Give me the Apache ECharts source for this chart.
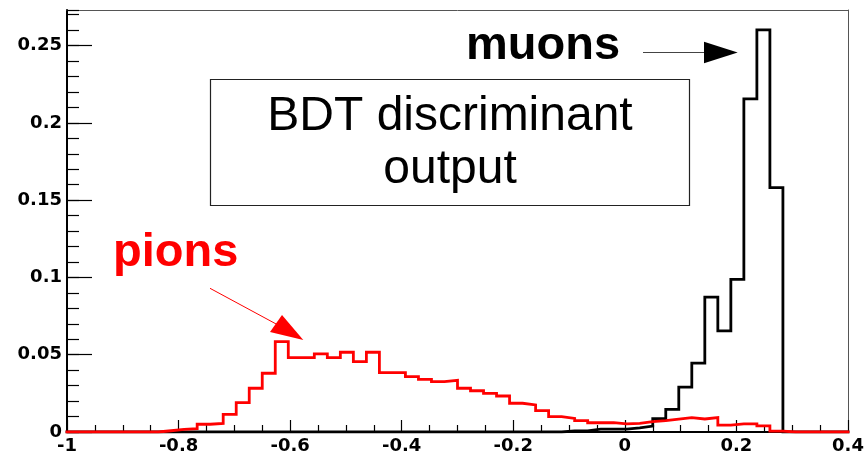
<!DOCTYPE html>
<html>
<head>
<meta charset="utf-8">
<script src="https://cdn.jsdelivr.net/npm/echarts@6/dist/echarts.min.js"></script>
<style>
  html, body { margin: 0; padding: 0; background: #ffffff; }
  #chart { width: 868px; height: 453px; }
</style>
</head>
<body>
<div id="chart"></div>
<script>
// Histogram binning of the BDT output: 60 equal bins on [-1, 0.4]
const binLow = -1.0;
const binHigh = 0.4;
const nBins = 60;

// Normalised entries per bin, pion sample
const pionCounts = [
  0, 0, 0, 0, 0, 0, 0, 0.0008, 0.0017, 0.0021,
  0.0050, 0.0056, 0.0114, 0.0190, 0.0283, 0.0380, 0.0585, 0.0481, 0.0481, 0.0505,
  0.0481, 0.0516, 0.0455, 0.0516, 0.0384, 0.0384, 0.0358, 0.0341, 0.0326, 0.0334,
  0.0283, 0.0267, 0.0250, 0.0233, 0.0186, 0.0175, 0.0138, 0.0099, 0.0088, 0.0073,
  0.0060, 0.0060, 0.0052, 0.0056, 0.0067, 0.0073, 0.0084, 0.0093, 0.0084, 0.0093,
  0.0045, 0.0052, 0.0052, 0.0039, 0.0006, 0, 0, 0, 0, 0
];

// Normalised entries per bin, muon sample
const muonCounts = [
  0, 0, 0, 0, 0, 0, 0, 0, 0, 0,
  0, 0, 0, 0, 0, 0, 0, 0, 0, 0,
  0, 0, 0, 0, 0, 0, 0, 0, 0, 0,
  0, 0, 0, 0, 0, 0, 0, 0, 0.0007, 0.0007,
  0.0018, 0.0018, 0.0018, 0.0026, 0.0038, 0.0086, 0.0147, 0.0290, 0.0445, 0.0872,
  0.0654, 0.0988, 0.2155, 0.2602, 0.1581, 0, 0, 0, 0, 0
];

// Axis ranges and tick spacing
const xRange = [-1, 0.4];
const xMajorStep = 0.2;
const xMinorSplit = 4;
const yRange = [0, 0.273];
const yMajorStep = 0.05;
const yMinorStep = 0.01;

// Tick labels as printed on the axes
const xTickLabels = ['-1', '-0.8', '-0.6', '-0.4', '-0.2', '0', '0.2', '0.4'];
const yTickLabels = ['0', '0.05', '0.1', '0.15', '0.2', '0.25'];

// Annotation texts
const seriesNames = ['muons', 'pions'];
const titleLines = ['BDT discriminant', 'output'];

// Turn per-bin contents into step-line vertices at the bin low edges
function histPoints(counts) {
  const w = (binHigh - binLow) / nBins;
  const pts = counts.map((c, i) => [binLow + i * w, c]);
  pts.push([binHigh, counts[counts.length - 1]]);
  return pts;
}

function labelFor(list, v) {
  const s = String(+v.toFixed(3));
  return list.indexOf(s) >= 0 ? s : '';
}

const labelFont = {
  fontFamily: 'DejaVu Sans',
  fontWeight: 'bold',
  fontSize: 18,
  color: '#000000'
};

const chart = echarts.init(document.getElementById('chart'), null, { renderer: 'canvas' });

chart.setOption({
  animation: false,
  backgroundColor: '#ffffff',
  grid: {
    left: 67, right: 20, top: 10, bottom: 21,
    containLabel: false,
    outerBoundsMode: 'none'
  },
  xAxis: [
    {
      type: 'value',
      min: xRange[0], max: xRange[1], interval: xMajorStep,
      axisLine: { show: true, onZero: false, lineStyle: { color: '#000', width: 2 } },
      axisTick: { show: true, inside: true, length: 12, lineStyle: { color: '#000', width: 1.2 } },
      minorTick: { show: true, splitNumber: xMinorSplit, length: 7, lineStyle: { color: '#000', width: 1.2 } },
      axisLabel: Object.assign({ margin: 5, formatter: v => labelFor(xTickLabels, v) }, labelFont),
      splitLine: { show: false },
      minorSplitLine: { show: false }
    },
    {
      // upper frame edge
      type: 'value', position: 'top',
      min: xRange[0], max: xRange[1],
      axisLine: { show: true, onZero: false, lineStyle: { color: '#555', width: 1 } },
      axisTick: { show: false }, axisLabel: { show: false }, splitLine: { show: false }
    }
  ],
  yAxis: [
    {
      type: 'value', position: 'left',
      min: yRange[0], max: yRange[1], interval: yMajorStep,
      axisLine: { show: true, onZero: false, lineStyle: { color: '#000', width: 2 } },
      axisTick: { show: true, inside: true, length: 25, lineStyle: { color: '#000', width: 1.2 } },
      axisLabel: Object.assign({ margin: 5, showMaxLabel: false, formatter: v => labelFor(yTickLabels, v) }, labelFont),
      splitLine: { show: false }
    },
    {
      // fine ticks every 0.01
      type: 'value', position: 'left',
      min: yRange[0], max: yRange[1], interval: yMinorStep,
      axisLine: { show: false, onZero: false },
      axisTick: { show: true, inside: true, length: 12, lineStyle: { color: '#000', width: 1.2 } },
      axisLabel: { show: false },
      splitLine: { show: false }
    },
    {
      // right frame edge
      type: 'value', position: 'right',
      min: yRange[0], max: yRange[1],
      axisLine: { show: true, onZero: false, lineStyle: { color: '#555', width: 1 } },
      axisTick: { show: false }, axisLabel: { show: false }, splitLine: { show: false }
    }
  ],
  series: [
    {
      name: seriesNames[0],
      type: 'line', step: 'end',
      xAxisIndex: 0, yAxisIndex: 0,
      data: histPoints(muonCounts),
      symbol: 'none', z: 3,
      lineStyle: { color: '#000000', width: 2.8, join: 'miter', cap: 'square' }
    },
    {
      name: seriesNames[1],
      type: 'line', step: 'end',
      xAxisIndex: 0, yAxisIndex: 0,
      data: histPoints(pionCounts),
      symbol: 'none', z: 4,
      lineStyle: { color: '#ff0000', width: 2.8, join: 'miter', cap: 'square' }
    }
  ],
  graphic: [
    // caption box
    {
      type: 'rect', z: 10,
      shape: { x: 210.5, y: 79.5, width: 479, height: 126 },
      style: { fill: '#ffffff', stroke: '#222', lineWidth: 1.2 }
    },
    {
      type: 'text', z: 11, x: 450, y: 117,
      style: {
        text: titleLines[0], fill: '#000', align: 'center', verticalAlign: 'middle',
        font: '48px "Liberation Sans", Arial, sans-serif'
      }
    },
    {
      type: 'text', z: 11, x: 450, y: 170,
      style: {
        text: titleLines[1], fill: '#000', align: 'center', verticalAlign: 'middle',
        font: '48px "Liberation Sans", Arial, sans-serif'
      }
    },
    // muon label with arrow
    {
      type: 'text', z: 11, x: 466, y: 46.5,
      style: {
        text: seriesNames[0], fill: '#000', align: 'left', verticalAlign: 'middle',
        font: 'bold 47px "Liberation Sans", Arial, sans-serif'
      }
    },
    {
      type: 'line', z: 11,
      shape: { x1: 643, y1: 52.5, x2: 706, y2: 52.5 },
      style: { stroke: '#444', lineWidth: 1 }
    },
    {
      type: 'polygon', z: 11,
      shape: { points: [[704, 41.7], [737.7, 52.5], [704, 63.3]] },
      style: { fill: '#000' }
    },
    // pion label with arrow
    {
      type: 'text', z: 11, x: 113, y: 253.5,
      style: {
        text: seriesNames[1], fill: '#ff0000', align: 'left', verticalAlign: 'middle',
        font: 'bold 47px "Liberation Sans", Arial, sans-serif'
      }
    },
    {
      type: 'line', z: 11,
      shape: { x1: 210, y1: 288.3, x2: 278, y2: 325 },
      style: { stroke: '#ff0000', lineWidth: 1 }
    },
    {
      type: 'polygon', z: 11,
      shape: { points: [[270, 332], [282, 315], [303.3, 340]] },
      style: { fill: '#ff0000' }
    }
  ]
});
</script>
</body>
</html>
